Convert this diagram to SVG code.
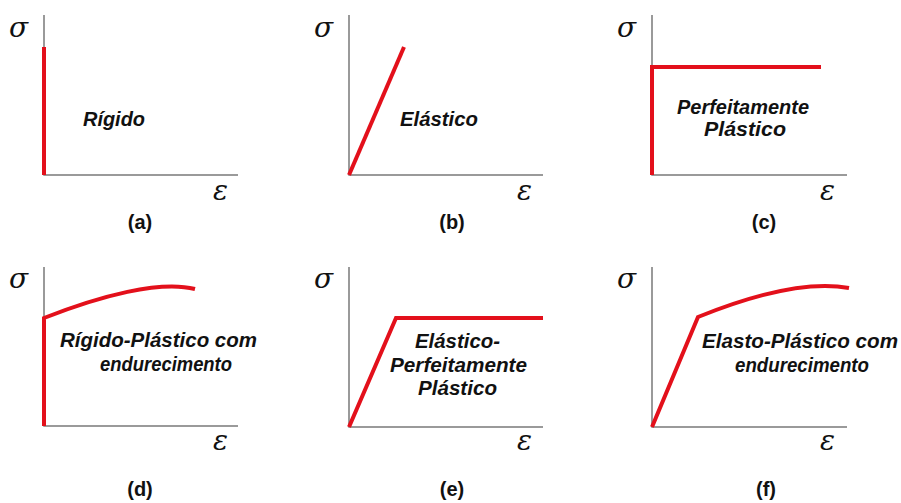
<svg xmlns="http://www.w3.org/2000/svg" width="901" height="503" viewBox="0 0 901 503">
<style>
.axis{fill:none;stroke:#7a7a7a;stroke-width:1.5}
.curve{fill:none;stroke:#e3101b;stroke-width:4;stroke-linejoin:miter;stroke-linecap:butt}
.lbl{font-family:"Liberation Sans",Arial,sans-serif;font-weight:bold;font-style:italic;font-size:20px;fill:#111}
.cap{font-family:"Liberation Sans",Arial,sans-serif;font-weight:bold;font-size:20px;fill:#111;text-anchor:middle}
.sym{font-family:"DejaVu Serif","Liberation Serif",serif;font-style:italic;font-size:28px;fill:#111}
</style>
<rect width="901" height="503" fill="#fff"/>
<g id="a">
<path class="axis" d="M44,15 V175 H238"/>
<path class="curve" d="M44,47 V175"/>
<text class="sym" x="9" y="37">σ</text>
<text class="sym" x="213" y="200">ε</text>
<text class="lbl" x="83" y="126" textLength="62" lengthAdjust="spacingAndGlyphs">Rígido</text>
<text class="cap" x="140" y="229">(a)</text>
</g>
<g id="b">
<path class="axis" d="M349,15 V175 H543"/>
<path class="curve" d="M349,175 L404,47"/>
<text class="sym" x="314" y="37">σ</text>
<text class="sym" x="517" y="200">ε</text>
<text class="lbl" x="400" y="126" textLength="78" lengthAdjust="spacingAndGlyphs">Elástico</text>
<text class="cap" x="452" y="229">(b)</text>
</g>
<g id="c">
<path class="axis" d="M652,15 V175 H847"/>
<path class="curve" d="M652,175 V67 H821"/>
<text class="sym" x="617" y="37">σ</text>
<text class="sym" x="820" y="200">ε</text>
<text class="lbl" x="677" y="114" textLength="132" lengthAdjust="spacingAndGlyphs">Perfeitamente</text>
<text class="lbl" x="704" y="136" textLength="82" lengthAdjust="spacingAndGlyphs">Plástico</text>
<text class="cap" x="764" y="229">(c)</text>
</g>
<g id="d">
<path class="axis" d="M44,267 V426 H238"/>
<path class="curve" d="M44,426 V318 C100,296 160,280 195,289"/>
<text class="sym" x="9" y="288">σ</text>
<text class="sym" x="213" y="450">ε</text>
<text class="lbl" x="60" y="347" textLength="197" lengthAdjust="spacingAndGlyphs">Rígido-Plástico com</text>
<text class="lbl" x="100" y="371" textLength="132" lengthAdjust="spacingAndGlyphs">endurecimento</text>
<text class="cap" x="140" y="496">(d)</text>
</g>
<g id="e">
<path class="axis" d="M349,267 V427 H543"/>
<path class="curve" d="M349,427 L396,318 H543"/>
<text class="sym" x="314" y="288">σ</text>
<text class="sym" x="517" y="450">ε</text>
<text class="lbl" x="415" y="348" textLength="85" lengthAdjust="spacingAndGlyphs">Elástico-</text>
<text class="lbl" x="390" y="372" textLength="137" lengthAdjust="spacingAndGlyphs">Perfeitamente</text>
<text class="lbl" x="418" y="395" textLength="79" lengthAdjust="spacingAndGlyphs">Plástico</text>
<text class="cap" x="452" y="496">(e)</text>
</g>
<g id="f">
<path class="axis" d="M652,267 V427 H847"/>
<path class="curve" d="M652,427 L698,317 C745,298 805,280 849,288"/>
<text class="sym" x="617" y="288">σ</text>
<text class="sym" x="820" y="450">ε</text>
<text class="lbl" x="702" y="348" textLength="196" lengthAdjust="spacingAndGlyphs">Elasto-Plástico com</text>
<text class="lbl" x="735" y="372" textLength="134" lengthAdjust="spacingAndGlyphs">endurecimento</text>
<text class="cap" x="766" y="496">(f)</text>
</g>
<g id="connectors"/>
</svg>
